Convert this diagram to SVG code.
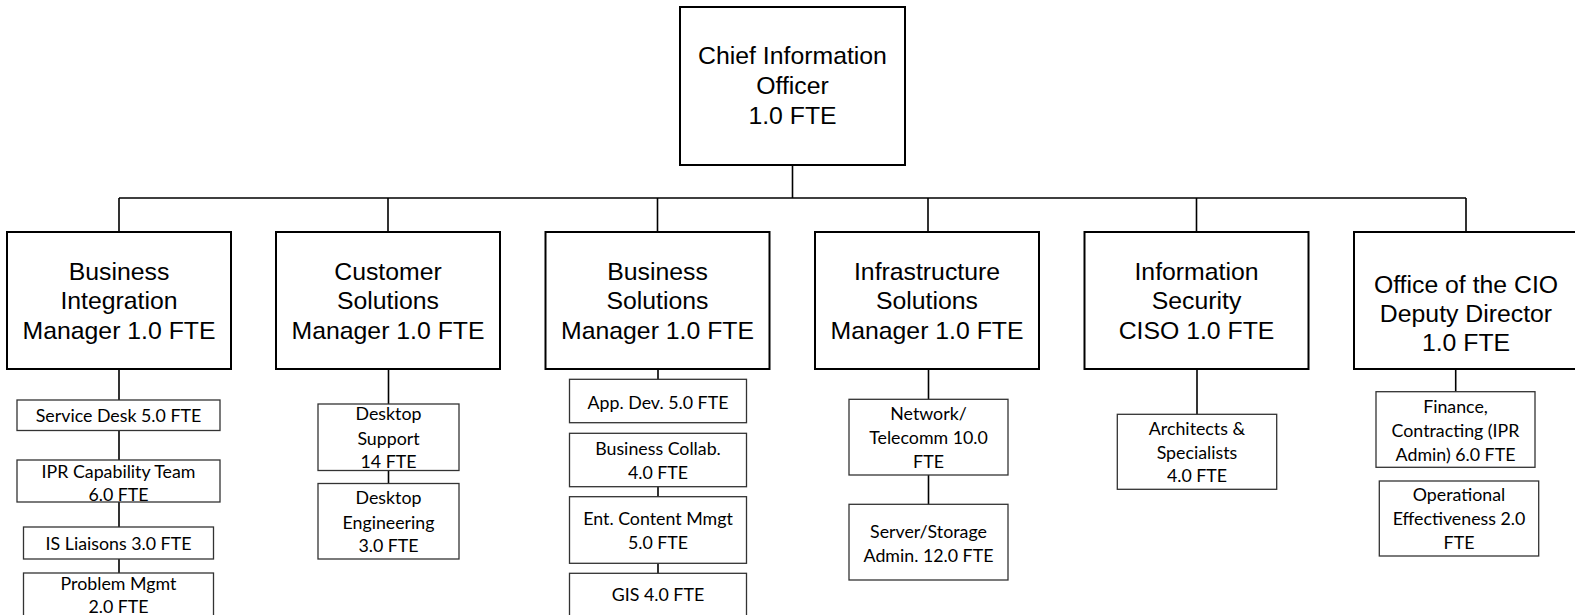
<svg xmlns="http://www.w3.org/2000/svg" width="1575" height="615" viewBox="0 0 1575 615">
<style>
.bg{fill:#fff}
.big rect{fill:#fff;stroke:#000;stroke-width:2}
.small rect{fill:#fff;stroke:#333;stroke-width:1.3}
.big text{font-family:"Liberation Sans",Arial,sans-serif;font-size:24.8px;fill:#000;text-anchor:middle}
.small text{font-family:Lato,"Liberation Sans",sans-serif;font-size:17.8px;fill:#000;text-anchor:middle}
#connectors path{fill:none;stroke:#000;stroke-width:1.6}
</style>
<rect class="bg" x="0" y="0" width="1575" height="615"/>
<g id="connectors">
<path d="M792.5 165V198M119 198H1466M119 198V232M388 198V232M657.5 198V232M928 198V232M1196.5 198V232M1466 198V232"/>
<path d="M119 369V400M119 430.5V460M119 502V527M119 559V573"/>
<path d="M388.5 369V404M388.5 470.5V483.5"/>
<path d="M658 369V379.3M658 486.7V496.7M658 563.3V573.3"/>
<path d="M928.5 369V399.3M928.5 475V504.3"/>
<path d="M1197 369V414.3"/>
<path d="M1455.7 369V391.7"/>
</g>
<g id="cio" class="big"><rect x="680" y="7" width="225" height="158"/><text x="792.5" y="64.3">Chief Information</text><text x="792.5" y="94.3">Officer</text><text x="792.5" y="124.3">1.0 FTE</text></g>
<g id="bizint" class="big"><rect x="7" y="232" width="224" height="137"/><text x="119" y="279.8">Business</text><text x="119" y="309.3">Integration</text><text x="119" y="338.8">Manager 1.0 FTE</text></g>
<g id="custsol" class="big"><rect x="276" y="232" width="224" height="137"/><text x="388" y="279.8">Customer</text><text x="388" y="309.3">Solutions</text><text x="388" y="338.8">Manager 1.0 FTE</text></g>
<g id="bizsol" class="big"><rect x="545.5" y="232" width="224" height="137"/><text x="657.5" y="279.8">Business</text><text x="657.5" y="309.3">Solutions</text><text x="657.5" y="338.8">Manager 1.0 FTE</text></g>
<g id="infra" class="big"><rect x="815" y="232" width="224" height="137"/><text x="927" y="279.8">Infrastructure</text><text x="927" y="309.3">Solutions</text><text x="927" y="338.8">Manager 1.0 FTE</text></g>
<g id="infosec" class="big"><rect x="1084.5" y="232" width="224" height="137"/><text x="1196.5" y="279.8">Information</text><text x="1196.5" y="309.3">Security</text><text x="1196.5" y="338.8">CISO 1.0 FTE</text></g>
<g id="ocio" class="big"><rect x="1354" y="232" width="226" height="137"/><text x="1466" y="293.3">Office of the CIO</text><text x="1466" y="322.3">Deputy Director</text><text x="1466" y="351.3">1.0 FTE</text></g>
<g id="servicedesk" class="small"><rect x="17" y="400" width="203" height="30.5"/><text x="118.5" y="421.5">Service Desk 5.0 FTE</text></g>
<g id="iprteam" class="small"><rect x="17" y="460" width="203" height="42"/><text x="118.5" y="477.5">IPR Capability Team</text><text x="118.5" y="501">6.0 FTE</text></g>
<g id="isliaisons" class="small"><rect x="23.5" y="527" width="190" height="32"/><text x="118.5" y="549.7">IS Liaisons 3.0 FTE</text></g>
<g id="problemmgmt" class="small"><rect x="23.5" y="573" width="190" height="50"/><text x="118.5" y="589.7">Problem Mgmt</text><text x="118.5" y="613">2.0 FTE</text></g>
<g id="desktopsupport" class="small"><rect x="318" y="404" width="141" height="66.5"/><text x="388.5" y="419.7">Desktop</text><text x="388.5" y="444.7">Support</text><text x="388.5" y="468">14 FTE</text></g>
<g id="desktopeng" class="small"><rect x="318" y="483.5" width="141" height="75.5"/><text x="388.5" y="504">Desktop</text><text x="388.5" y="528.7">Engineering</text><text x="388.5" y="552.4">3.0 FTE</text></g>
<g id="appdev" class="small"><rect x="569.5" y="379.3" width="177" height="43.4"/><text x="658" y="408.7">App. Dev. 5.0 FTE</text></g>
<g id="bizcollab" class="small"><rect x="569.5" y="433.3" width="177" height="53.4"/><text x="658" y="454.7">Business Collab.</text><text x="658" y="478.7">4.0 FTE</text></g>
<g id="entcontent" class="small"><rect x="569.5" y="496.7" width="177" height="66.6"/><text x="658" y="524.7">Ent. Content Mmgt</text><text x="658" y="549">5.0 FTE</text></g>
<g id="gis" class="small"><rect x="569.5" y="573.3" width="177" height="50"/><text x="658" y="601.4">GIS 4.0 FTE</text></g>
<g id="network" class="small"><rect x="849" y="399.3" width="159" height="75.7"/><text x="928.5" y="419.7">Network/</text><text x="928.5" y="443.7">Telecomm 10.0</text><text x="928.5" y="468">FTE</text></g>
<g id="server" class="small"><rect x="849" y="504.3" width="159" height="75.7"/><text x="928.5" y="538">Server/Storage</text><text x="928.5" y="562.4">Admin. 12.0 FTE</text></g>
<g id="architects" class="small"><rect x="1117.3" y="414.3" width="159.4" height="75"/><text x="1197" y="434.7">Architects &amp;</text><text x="1197" y="458.7">Specialists</text><text x="1197" y="482.4">4.0 FTE</text></g>
<g id="finance" class="small"><rect x="1376" y="391.7" width="159" height="75.6"/><text x="1455.5" y="413">Finance,</text><text x="1455.5" y="437">Contracting (IPR</text><text x="1455.5" y="460.7">Admin) 6.0 FTE</text></g>
<g id="opeff" class="small"><rect x="1379.3" y="481" width="159.4" height="75"/><text x="1459" y="501.4">Operational</text><text x="1459" y="525.4">Effectiveness 2.0</text><text x="1459" y="549">FTE</text></g>
</svg>
